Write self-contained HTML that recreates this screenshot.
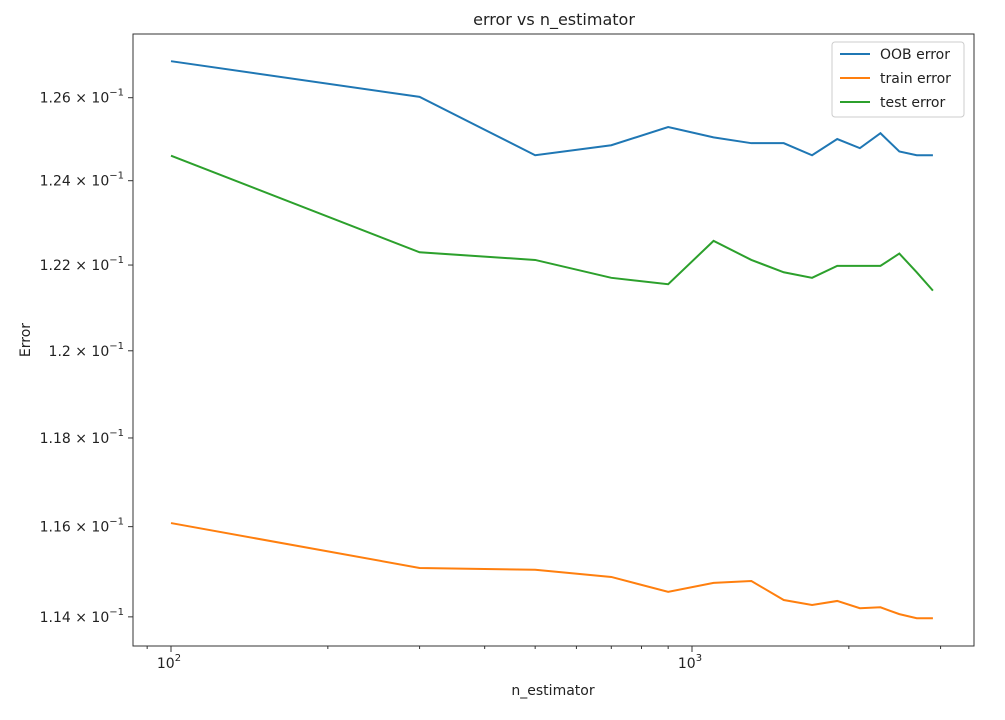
<!DOCTYPE html>
<html><head><meta charset="utf-8"><style>
body{margin:0;background:#fff;font-family:"Liberation Sans","DejaVu Sans",sans-serif;}
svg text{font-family:"DejaVu Sans","Liberation Sans",sans-serif;fill:#222;}
</style></head><body>
<svg id="chart" width="1005" height="715" viewBox="0 0 1005 715" xmlns="http://www.w3.org/2000/svg">
<text x="554" y="25" font-size="16" text-anchor="middle">error vs n_estimator</text>
<rect x="133" y="34" width="841" height="612" fill="none" stroke="#333" stroke-width="1"/>
<g id="axes"></g>
<g id="series"></g>
<text x="553" y="695" font-size="14" text-anchor="middle">n_estimator</text>
<text x="30" y="340" font-size="14" text-anchor="middle" transform="rotate(-90 30 340)">Error</text>
<g>
<rect x="832" y="42" width="132" height="75" rx="3" fill="#fff" stroke="#ccc"/>
<line x1="840" y1="54" x2="870" y2="54" stroke="#1f77b4" stroke-width="2"/>
<text x="880" y="59" font-size="14">OOB error</text>
<line x1="840" y1="78" x2="870" y2="78" stroke="#ff7f0e" stroke-width="2"/>
<text x="880" y="83" font-size="14">train error</text>
<line x1="840" y1="102" x2="870" y2="102" stroke="#2ca02c" stroke-width="2"/>
<text x="880" y="107" font-size="14">test error</text>
</g>
</svg>
<script>
const nEstimators=[100,300,500,700,900,1100,1300,1500,1700,1900,2100,2300,2500,2700,2900];
const oobError=[.12689,.12602,.12461,.12485,.12529,.12504,.1249,.1249,.12461,.125,.12478,.12514,.1247,.12461,.12461];
const trainError=[.11608,.11508,.11504,.11488,.11455,.11475,.11479,.11437,.11426,.11435,.11419,.11421,.11406,.11397,.11397];
const testError=[.1246,.1223,.12212,.1217,.12155,.12257,.12212,.12183,.1217,.12198,.12198,.12198,.12227,.12183,.1214];
const yTicks=[.114,.116,.118,.120,.122,.124,.126];
const yTickLabels=["1.14","1.16","1.18","1.2","1.22","1.24","1.26"];
const xMajor=[100,1000];
const xMajorLabels=["2","3"];
const xMinor=[90,200,300,400,500,600,700,800,900,2000,3000];
const NS="http://www.w3.org/2000/svg";
function X(v){return 171+(Math.log10(v)-2)*521;}
function Y(v){return 97.7+(Math.log10(0.126)-Math.log10(v))*11944;}
const ax=document.getElementById('axes');
function mk(tag,attrs,parent){const e=document.createElementNS(NS,tag);for(const k in attrs)e.setAttribute(k,attrs[k]);parent.appendChild(e);return e;}
yTicks.forEach((t,i)=>{const y=Y(t);
 const l=mk('line',{x1:128,x2:133,y1:y,y2:y,stroke:'#333'},ax);
 
 
 const tx=mk('text',{x:124,y:y+5,'font-size':14,'text-anchor':'end'},ax);
 
 
 tx.innerHTML=yTickLabels[i]+' × 10<tspan dy="-7" font-size="10">−1</tspan>';
});
xMajor.forEach((t,i)=>{const x=X(t);
 const l=mk('line',{x1:x,x2:x,y1:646,y2:652,stroke:'#333'},ax);
 
 
 const tx=mk('text',{x:x-2,y:668,'font-size':14,'text-anchor':'middle'},ax);
 
 
 tx.innerHTML='10<tspan dy="-7" font-size="10">'+xMajorLabels[i]+'</tspan>';
});
xMinor.forEach(t=>{const x=X(t);
 const l=mk('line',{x1:x,x2:x,y1:646,y2:649,stroke:'#333'},ax);
 
 
});
const sg=document.getElementById('series');
[[oobError,'#1f77b4','oob-error-line'],[trainError,'#ff7f0e','train-error-line'],[testError,'#2ca02c','test-error-line']].forEach(([d,c,n])=>{
 const p=mk('polyline',{points:d.map((v,i)=>X(nEstimators[i])+','+Y(v)).join(' '),fill:'none',stroke:c,'stroke-width':2},sg);
 
 
});
</script>
</body></html>
